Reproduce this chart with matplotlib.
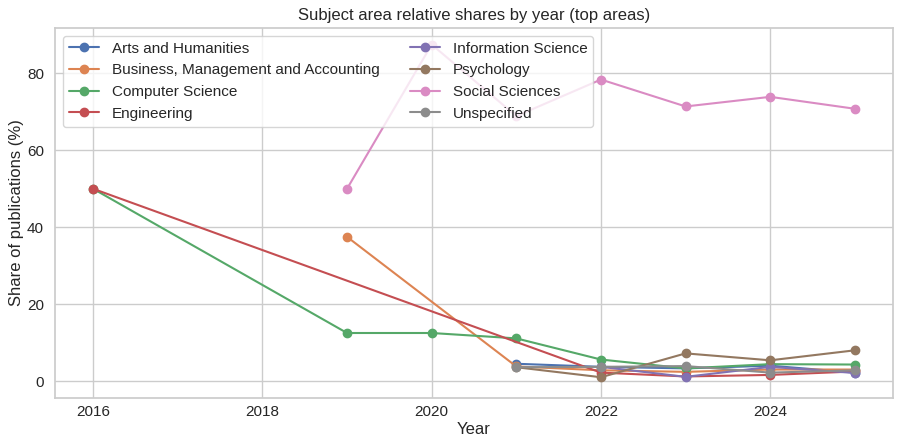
import matplotlib
matplotlib.use("Agg")
import matplotlib.pyplot as plt
import seaborn as sns

sns.set_theme(style="whitegrid")
plt.rcParams['font.family'] = ['Liberation Sans', 'DejaVu Sans']

series = {
    "Arts and Humanities": ([2021, 2022, 2023, 2024, 2025], [4.5, 3.7, 3.3, 4.0, 2.2]),
    "Business, Management and Accounting": ([2019, 2021, 2022, 2023, 2024, 2025], [37.5, 3.8, 2.8, 2.4, 3.0, 3.0]),
    "Computer Science": ([2016, 2019, 2020, 2021, 2022, 2023, 2024, 2025], [50.0, 12.5, 12.5, 11.1, 5.6, 3.3, 4.4, 4.3]),
    "Engineering": ([2016, 2022, 2023, 2024, 2025], [50.0, 2.2, 1.2, 1.6, 2.5]),
    "Information Science": ([2022, 2023, 2024, 2025], [3.7, 1.1, 3.7, 2.1]),
    "Psychology": ([2021, 2022, 2023, 2024, 2025], [3.6, 1.0, 7.2, 5.4, 8.0]),
    "Social Sciences": ([2019, 2020, 2021, 2022, 2023, 2024, 2025], [50.0, 87.5, 68.9, 78.4, 71.4, 73.9, 70.8]),
    "Unspecified": ([2021, 2022, 2023, 2024, 2025], [3.6, 3.7, 3.9, 2.2, 2.8]),
}

palette = sns.color_palette("deep")
colors = [palette[i] for i in range(8)]

fig, ax = plt.subplots(figsize=(8.99, 4.41), dpi=100)
for (name, (xs, ys)), c in zip(series.items(), colors):
    ax.plot(xs, ys, marker="o", label=name, color=c, linewidth=1.5, markersize=6)

ax.set_title("Subject area relative shares by year (top areas)", fontsize=12)
ax.set_xlabel("Year", fontsize=12, labelpad=2)
ax.set_ylabel("Share of publications (%)", fontsize=12, labelpad=2)
ax.set_xticks([2016, 2018, 2020, 2022, 2024])
ax.set_ylim(-4.4, 91.8)
ax.tick_params(labelsize=11)
ax.tick_params(axis="x", pad=-1)
ax.tick_params(axis="y", pad=2)
ax.legend(ncol=2, loc="upper left", fontsize=11, frameon=True,
          borderpad=0.4, labelspacing=0.5, handletextpad=0.8, columnspacing=2.0)
fig.subplots_adjust(left=55/899, right=893/899, top=1-28/441, bottom=1-398/441)
fig.savefig("out.png", dpi=100)
